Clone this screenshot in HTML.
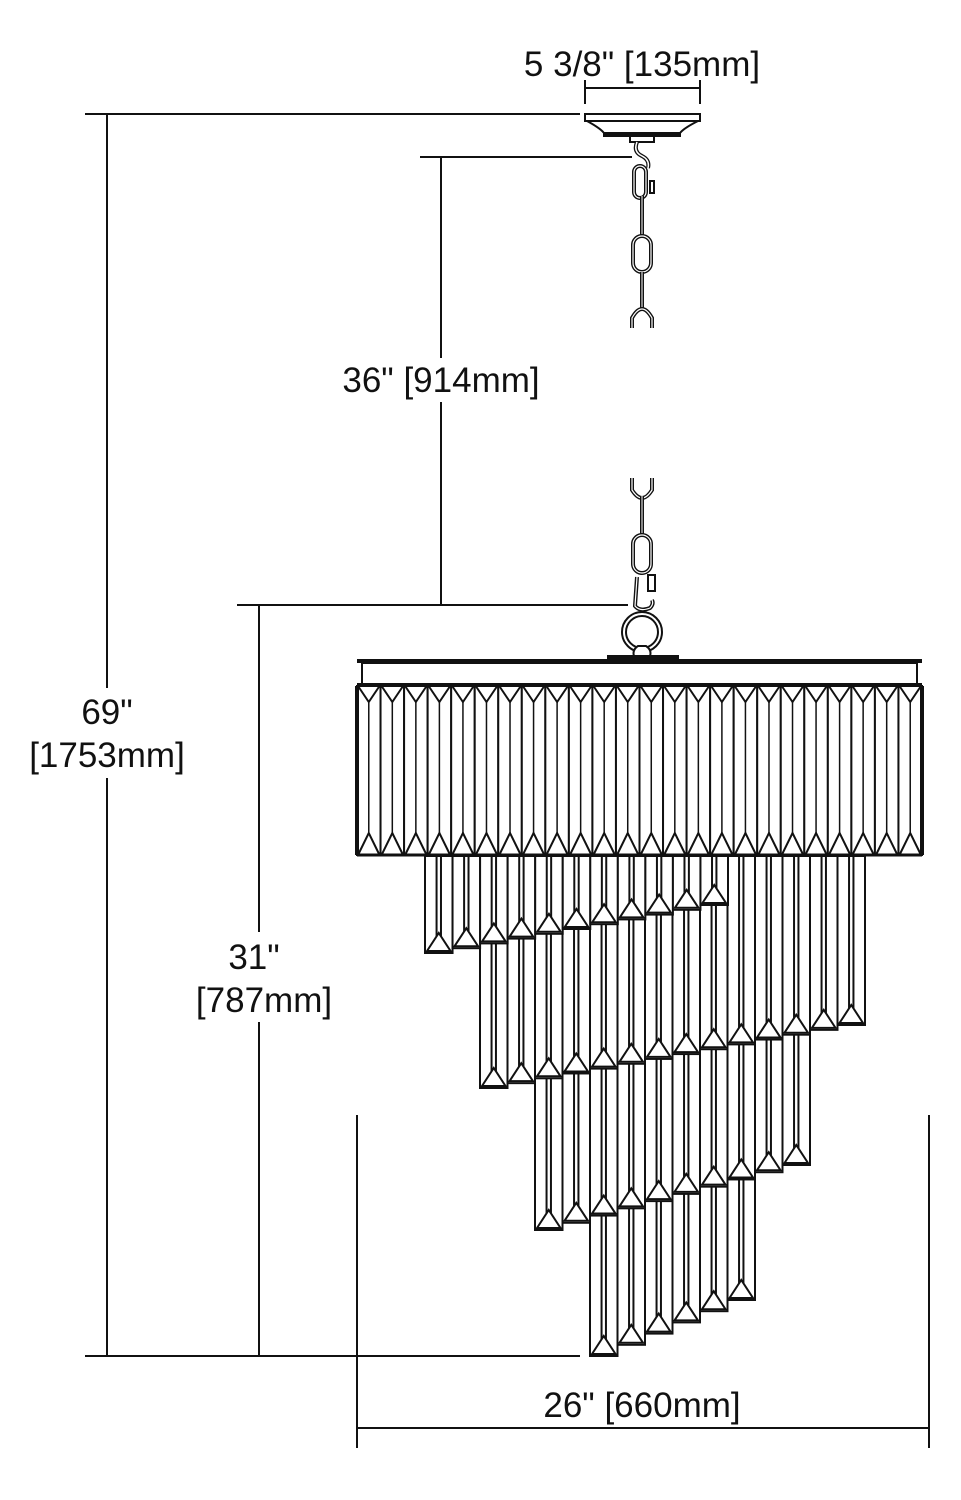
<!DOCTYPE html>
<html><head><meta charset="utf-8"><style>
html,body{margin:0;padding:0;background:#fff;}
svg{display:block}
text{font-family:"Liberation Sans",sans-serif;font-size:35px;fill:#111;}
</style></head><body>
<svg id="s" width="961" height="1500" viewBox="0 0 961 1500" xmlns="http://www.w3.org/2000/svg">
<g stroke="#111" stroke-width="2" fill="none">
<line x1="85" y1="114" x2="580" y2="114"/>
<line x1="107" y1="114" x2="107" y2="1356"/>
<line x1="85" y1="1356" x2="580" y2="1356"/>
<line x1="420" y1="157" x2="632" y2="157"/>
<line x1="441" y1="157" x2="441" y2="605"/>
<line x1="237" y1="605" x2="628" y2="605"/>
<line x1="259" y1="605" x2="259" y2="1356"/>
<line x1="357" y1="1115" x2="357" y2="1448"/>
<line x1="929" y1="1115" x2="929" y2="1448"/>
<line x1="357" y1="1428" x2="929" y2="1428"/>
<line x1="585" y1="88" x2="700" y2="88"/>
<line x1="585" y1="80" x2="585" y2="104"/>
<line x1="700" y1="80" x2="700" y2="104"/>
<rect x="585" y="114" width="115" height="7" fill="#fff"/>
<path d="M587 121 Q600 128 604 133 L680 133 Q684 128 698 121" />
<rect x="604" y="133" width="76" height="3" fill="#111"/>
<rect x="630" y="136" width="24" height="6" fill="#fff"/>
<path d="M637 142 Q633 152 642 156 Q650 160 648 168" stroke-width="4"/>
<path d="M637 142 Q633 152 642 156 Q650 160 648 168" stroke="#fff" stroke-width="1.5"/>
<rect x="634" y="166" width="12" height="32" rx="6" stroke-width="4"/>
<rect x="634" y="166" width="12" height="32" rx="6" stroke="#fff" stroke-width="1.2"/>
<rect x="650" y="181" width="4" height="12" fill="#fff"/>
<line x1="642" y1="196" x2="642" y2="236" stroke-width="4"/>
<line x1="642" y1="196" x2="642" y2="236" stroke="#fff" stroke-width="1"/>
<rect x="633" y="236" width="18" height="36" rx="9" stroke-width="4"/>
<rect x="633" y="236" width="18" height="36" rx="9" stroke="#fff" stroke-width="1.2"/>
<line x1="642" y1="272" x2="642" y2="310" stroke-width="4"/>
<line x1="642" y1="272" x2="642" y2="310" stroke="#fff" stroke-width="1"/>
<path d="M632 328 L632 318 Q642 300 652 318 L652 328" stroke-width="4"/>
<path d="M632 328 L632 318 Q642 300 652 318 L652 328" stroke="#fff" stroke-width="1.2"/>
<path d="M632 478 L632 490 Q642 506 652 490 L652 478" stroke-width="4"/>
<path d="M632 478 L632 490 Q642 506 652 490 L652 478" stroke="#fff" stroke-width="1.2"/>
<line x1="642" y1="496" x2="642" y2="535" stroke-width="4"/>
<line x1="642" y1="496" x2="642" y2="535" stroke="#fff" stroke-width="1"/>
<rect x="633" y="535" width="18" height="38" rx="9" stroke-width="4"/>
<rect x="633" y="535" width="18" height="38" rx="9" stroke="#fff" stroke-width="1.2"/>
<rect x="648" y="575" width="7" height="16" fill="#fff"/>
<path d="M637 577 L635 606 Q640 612 650 608 Q654 604 652 600" stroke-width="4"/>
<path d="M637 577 L635 606 Q640 612 650 608 Q654 604 652 600" stroke="#fff" stroke-width="1.2"/>
<circle cx="642" cy="632" r="18" stroke-width="6"/>
<circle cx="642" cy="632" r="18" stroke="#fff" stroke-width="2"/>
<path d="M634 656 Q632 650 638 646 L646 646 Q652 650 650 656" fill="#fff"/>
<rect x="608" y="656" width="70" height="4" fill="#111"/>
<rect x="357" y="659" width="565" height="4" fill="#111" stroke="none"/>
<rect x="362" y="663" width="555" height="21" fill="#fff"/>
<rect x="357" y="683" width="565" height="3" fill="#111" stroke="none"/>
</g>
<g id="crys" stroke="#111" stroke-width="2" fill="#fff"></g>
<g fill="#fff" stroke="none">
<rect x="335" y="358" width="212" height="44"/>
<rect x="20" y="688" width="175" height="90"/>
<rect x="190" y="932" width="148" height="90"/>
<rect x="530" y="1382" width="225" height="42"/>
</g>
<text x="642" y="76" text-anchor="middle">5 3/8" [135mm]</text>
<text x="441" y="392" text-anchor="middle">36" [914mm]</text>
<text x="107" y="724" text-anchor="middle">69"</text>
<text x="107" y="767" text-anchor="middle">[1753mm]</text>
<text x="254" y="969" text-anchor="middle">31"</text>
<text x="264" y="1012" text-anchor="middle">[787mm]</text>
<text x="642" y="1417" text-anchor="middle">26" [660mm]</text>
</svg>
<script>
(function(){
var g=document.getElementById('crys'),o='';
function col(x,w,t,b){
  var th=16;
  o+='<rect x="'+x+'" y="'+t+'" width="'+w+'" height="'+(b-t)+'"/>';
  var a=x+w*0.42,c=x+w*0.58,m=x+w/2;
  o+='<line x1="'+a+'" y1="'+t+'" x2="'+a+'" y2="'+(b-th)+'"/>';
  o+='<line x1="'+c+'" y1="'+t+'" x2="'+c+'" y2="'+(b-th)+'"/>';
  o+='<polygon points="'+(x+2)+','+(b-2)+' '+m+','+(b-th-4)+' '+(x+w-2)+','+(b-2)+'"/>';
}
function tier(x0,x1,n,b0,b1,top){
  var w=(x1-x0)/n;
  for(var i=0;i<n;i++){col(x0+i*w,w,top,b0+(b1-b0)*(n===1?0:i/(n-1)));}
}
tier(590,755,6,1356,1300,1000);
tier(535,810,10,1230,1165,900);
tier(480,865,14,1088,1025,856);
tier(425,728,11,953,905,856);
var n=24,x0=357,x1=922,w=(x1-x0)/n,t=686,b=855;
for(var i=0;i<n;i++){
  var x=x0+i*w,m=x+w/2;
  o+='<rect x="'+x+'" y="'+t+'" width="'+w+'" height="'+(b-t)+'"/>';
  o+='<polyline fill="none" points="'+(x+1)+','+t+' '+m+','+(t+16)+' '+(x+w-1)+','+t+'"/>';
  o+='<line x1="'+m+'" y1="'+(t+16)+'" x2="'+m+'" y2="'+(b-22)+'" stroke-width="1.5"/>';
  o+='<polyline fill="none" points="'+(x+1)+','+b+' '+m+','+(b-22)+' '+(x+w-1)+','+b+'"/>';
}
o+='<line x1="357" y1="855" x2="922" y2="855" stroke-width="3"/>';
o+='<line x1="357" y1="686" x2="357" y2="855" stroke-width="4"/>';
o+='<line x1="922" y1="686" x2="922" y2="855" stroke-width="4"/>';
g.innerHTML=o;
})();
</script>
</body></html>
